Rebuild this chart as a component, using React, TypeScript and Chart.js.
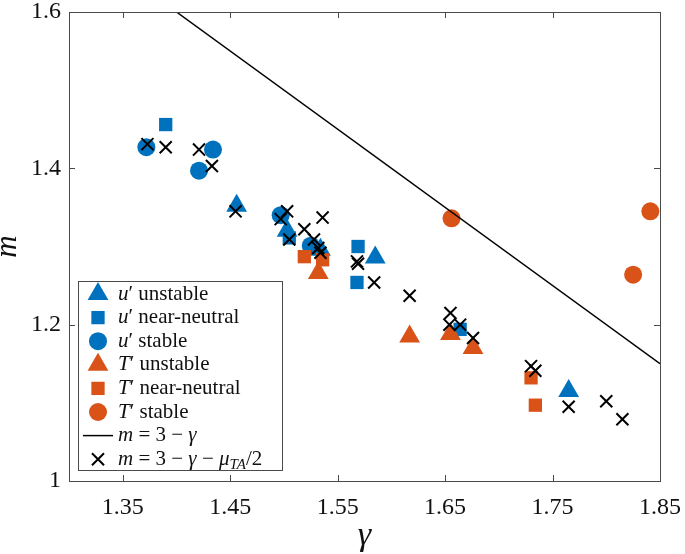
import React, { useEffect, useRef } from 'react';
import { Chart, registerables } from 'chart.js';

Chart.register(...registerables);

// ---- data ----
const uUnstableGamma = [1.456, 1.503, 1.534, 1.585, 1.765];
const uUnstableM = [1.352, 1.320, 1.296, 1.286, 1.115];

const uNeutralGamma = [1.390, 1.505, 1.569, 1.568, 1.664];
const uNeutralM = [1.456, 1.311, 1.300, 1.254, 1.194];

const uStableGamma = [1.372, 1.434, 1.421, 1.497, 1.525];
const uStableM = [1.427, 1.424, 1.397, 1.340, 1.301];

const tUnstableGamma = [1.532, 1.617, 1.655, 1.676];
const tUnstableM = [1.266, 1.185, 1.188, 1.170];

const tNeutralGamma = [1.519, 1.536, 1.730, 1.734];
const tNeutralM = [1.287, 1.283, 1.132, 1.097];

const tStableGamma = [1.656, 1.825, 1.841];
const tStableM = [1.336, 1.264, 1.345];

const lineGamma = [1.40, 1.85];
const lineM = [1.60, 1.15];

const crossGamma = [1.373, 1.390, 1.421, 1.433, 1.455, 1.497, 1.503, 1.505, 1.519, 1.528, 1.532, 1.534, 1.536, 1.568, 1.569, 1.584, 1.617, 1.655, 1.654, 1.664, 1.676, 1.730, 1.734, 1.765, 1.800, 1.815];
const crossM = [1.431, 1.427, 1.424, 1.403, 1.345, 1.335, 1.345, 1.309, 1.322, 1.309, 1.298, 1.292, 1.337, 1.281, 1.278, 1.254, 1.237, 1.215, 1.200, 1.200, 1.183, 1.147, 1.141, 1.095, 1.102, 1.079];

const xTicks = [1.35, 1.45, 1.55, 1.65, 1.75, 1.85];
const yTicks = [1, 1.2, 1.4, 1.6];
const xMin = 1.30;
const xMax = 1.85;
const yMin = 1.0;
const yMax = 1.6;

type Seg = { t: string; i?: boolean; sub?: boolean };
const legendLabels: Seg[][] = [
  [{ t: 'u', i: true }, { t: '′' }, { t: ' unstable' }],
  [{ t: 'u', i: true }, { t: '′' }, { t: ' near-neutral' }],
  [{ t: 'u', i: true }, { t: '′' }, { t: ' stable' }],
  [{ t: 'T', i: true }, { t: '′' }, { t: ' unstable' }],
  [{ t: 'T', i: true }, { t: '′' }, { t: ' near-neutral' }],
  [{ t: 'T', i: true }, { t: '′' }, { t: ' stable' }],
  [{ t: 'm', i: true }, { t: ' = 3 − ' }, { t: 'γ', i: true }],
  [{ t: 'm', i: true }, { t: ' = 3 − ' }, { t: 'γ', i: true }, { t: ' − ' }, { t: 'μ', i: true }, { t: 'TA', i: true, sub: true }, { t: '/2' }],
];

const BLUE = '#0072BD';
const ORANGE = '#D95319';
const AXIS = '#4a4a4a';
const SERIF = '"Liberation Serif", "Times New Roman", serif';

const pts = (xs: number[], ys: number[]) => xs.map((x, k) => ({ x, y: ys[k] }));

function drawShape(ctx: CanvasRenderingContext2D, style: string, x: number, y: number, r: number, color: string) {
  ctx.save();
  ctx.fillStyle = color;
  ctx.strokeStyle = color;
  ctx.beginPath();
  if (style === 'triangle') {
    ctx.moveTo(x, y - r);
    ctx.lineTo(x + r * 0.866, y + r / 2);
    ctx.lineTo(x - r * 0.866, y + r / 2);
    ctx.closePath();
    ctx.fill();
  } else if (style === 'rect') {
    const s = r * Math.SQRT1_2;
    ctx.rect(x - s, y - s, 2 * s, 2 * s);
    ctx.fill();
  } else if (style === 'circle') {
    ctx.arc(x, y, r, 0, Math.PI * 2);
    ctx.fill();
  } else if (style === 'crossRot') {
    const s = r * Math.SQRT1_2;
    ctx.lineWidth = 2;
    ctx.moveTo(x - s, y - s);
    ctx.lineTo(x + s, y + s);
    ctx.moveTo(x - s, y + s);
    ctx.lineTo(x + s, y - s);
    ctx.stroke();
  } else if (style === 'line') {
    ctx.lineWidth = 1.5;
    ctx.moveTo(x - 15, y);
    ctx.lineTo(x + 15, y);
    ctx.stroke();
  }
  ctx.restore();
}

function drawRich(ctx: CanvasRenderingContext2D, segs: Seg[], x: number, y: number, size: number) {
  let cx = x;
  for (const s of segs) {
    const fs = s.sub ? Math.round(size * 0.7) : size;
    ctx.font = `${s.i ? 'italic ' : ''}${fs}px ${SERIF}`;
    ctx.fillText(s.t, cx, y + (s.sub ? size * 0.28 : 0));
    cx += ctx.measureText(s.t).width;
  }
}

const framePlugin = {
  id: 'frame',
  afterDraw(chart: any) {
    const { ctx, chartArea: a, scales } = chart;
    const xs = scales.x;
    const ys = scales.y;
    ctx.save();
    // box
    ctx.strokeStyle = AXIS;
    ctx.lineWidth = 1;
    ctx.strokeRect(Math.round(a.left) + 0.5, Math.round(a.top) + 0.5, Math.round(a.right - a.left), Math.round(a.bottom - a.top));
    const tl = 6;
    ctx.beginPath();
    for (const v of xTicks) {
      const px = Math.round(xs.getPixelForValue(v)) + 0.5;
      ctx.moveTo(px, a.bottom);
      ctx.lineTo(px, a.bottom - tl);
      ctx.moveTo(px, a.top);
      ctx.lineTo(px, a.top + tl);
    }
    for (const v of yTicks) {
      const py = Math.round(ys.getPixelForValue(v)) + 0.5;
      ctx.moveTo(a.left, py);
      ctx.lineTo(a.left + tl, py);
      ctx.moveTo(a.right, py);
      ctx.lineTo(a.right - tl, py);
    }
    ctx.stroke();

    // axis titles
    ctx.fillStyle = '#111';
    ctx.textAlign = 'center';
    ctx.textBaseline = 'alphabetic';
    ctx.font = `italic 34px ${SERIF}`;
    ctx.fillText('γ', (a.left + a.right) / 2, 545);
    ctx.save();
    ctx.translate(16, (a.top + a.bottom) / 2);
    ctx.rotate(-Math.PI / 2);
    ctx.font = `italic 31px ${SERIF}`;
    ctx.fillText('m', 0, 0);
    ctx.restore();

    // legend
    const L = 78, T = 281, R = 282, B = 470;
    ctx.fillStyle = '#ffffff';
    ctx.fillRect(L, T, R - L, B - T);
    ctx.strokeStyle = AXIS;
    ctx.lineWidth = 1;
    ctx.strokeRect(L + 0.5, T + 0.5, R - L, B - T);
    const styles = ['triangle', 'rect', 'circle', 'triangle', 'rect', 'circle', 'line', 'crossRot'];
    const radii = [12, 9.4, 9, 12, 9.4, 9, 0, 8.5];
    const colors = [BLUE, BLUE, BLUE, ORANGE, ORANGE, ORANGE, '#000', '#000'];
    ctx.textAlign = 'left';
    ctx.textBaseline = 'middle';
    for (let k = 0; k < legendLabels.length; k++) {
      const cy = 294 + k * 23.6;
      drawShape(ctx, styles[k], 98, cy, radii[k], colors[k]);
      ctx.fillStyle = '#111';
      drawRich(ctx, legendLabels[k], 118, cy, 21);
    }
    ctx.restore();
  },
};

export default function App() {
  const ref = useRef<HTMLCanvasElement>(null);
  useEffect(() => {
    if (!ref.current) return;
    const filled = (label: string, xs: number[], ys: number[], color: string, style: string, r: number, order: number) => ({
      type: 'scatter' as const,
      label,
      data: pts(xs, ys),
      pointStyle: style,
      pointRadius: r,
      pointHoverRadius: r,
      backgroundColor: color,
      borderColor: color,
      pointBorderWidth: 0,
      order,
    });
    const chart = new Chart(ref.current, {
      type: 'scatter',
      data: {
        datasets: [
          filled("u' unstable", uUnstableGamma, uUnstableM, BLUE, 'triangle', 12, 8),
          filled("u' near-neutral", uNeutralGamma, uNeutralM, BLUE, 'rect', 9.4, 7),
          filled("u' stable", uStableGamma, uStableM, BLUE, 'circle', 9, 6),
          filled("T' unstable", tUnstableGamma, tUnstableM, ORANGE, 'triangle', 12, 5),
          filled("T' near-neutral", tNeutralGamma, tNeutralM, ORANGE, 'rect', 9.4, 4),
          filled("T' stable", tStableGamma, tStableM, ORANGE, 'circle', 9, 3),
          {
            type: 'line' as const,
            label: 'm = 3 - γ',
            data: pts(lineGamma, lineM),
            borderColor: '#000',
            borderWidth: 1.5,
            pointRadius: 0,
            fill: false,
            order: 2,
          },
          {
            type: 'scatter' as const,
            label: 'm = 3 - γ - μTA/2',
            data: pts(crossGamma, crossM),
            pointStyle: 'crossRot',
            pointRadius: 8.5,
            pointHoverRadius: 8.5,
            borderColor: '#000',
            backgroundColor: '#000',
            pointBorderWidth: 2,
            order: 1,
          },
        ] as any,
      },
      options: {
        animation: false,
        responsive: false,
        events: [],
        layout: { padding: { left: 0, top: 12, right: 25, bottom: 0 } },
        plugins: { legend: { display: false }, tooltip: { enabled: false } },
        scales: {
          x: {
            type: 'linear',
            min: xMin,
            max: xMax,
            afterBuildTicks: (s: any) => { s.ticks = xTicks.map((v) => ({ value: v })); },
            afterFit: (s: any) => { s.height = 73; s.paddingLeft = 0; s.paddingRight = 0; },
            grid: { display: false, drawTicks: false },
            border: { display: false },
            ticks: {
              padding: 12,
              color: '#111',
              font: { family: SERIF, size: 24 },
              maxRotation: 0,
              callback: (v: any) => Number(v).toFixed(2),
            },
          },
          y: {
            type: 'linear',
            min: yMin,
            max: yMax,
            afterBuildTicks: (s: any) => { s.ticks = yTicks.map((v) => ({ value: v })); },
            afterFit: (s: any) => { s.width = 69; s.paddingTop = 0; s.paddingBottom = 0; },
            grid: { display: false, drawTicks: false },
            border: { display: false },
            ticks: {
              padding: 8,
              color: '#111',
              font: { family: SERIF, size: 24 },
              callback: (v: any) => (Number(v) === 1 ? '1' : Number(v).toFixed(1)),
            },
          },
        },
      },
      plugins: [framePlugin],
    });
    return () => chart.destroy();
  }, []);
  return (
    <div style={{ position: 'fixed', left: 0, top: 0, width: 685, height: 554, background: '#fff' }}>
      <canvas ref={ref} width={685} height={554} style={{ display: 'block' }} />
    </div>
  );
}
